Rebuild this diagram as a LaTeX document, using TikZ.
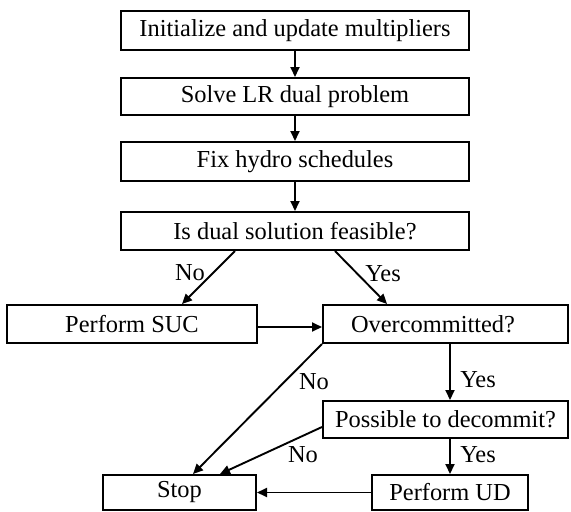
\documentclass[tikz,border=0pt]{standalone}
\usepackage{fontspec}
\setmainfont{Liberation Serif}
\usetikzlibrary{arrows.meta}
\begin{document}
\begin{tikzpicture}[x=1pt,y=-1pt,
  box/.style={draw, line width=2pt, inner sep=0pt, font=\fontsize{24.4}{27}\selectfont},
  txt/.style={inner sep=0pt, font=\fontsize{24.4}{27}\selectfont},
  lbl/.style={inner sep=0pt, font=\fontsize{24.4}{27}\selectfont},
  arr/.style={line width=1.9pt, -{Triangle[length=10pt,width=9pt]}}]
\useasboundingbox (0,0) rectangle (571,512);
\node[box, minimum width=348pt, minimum height=39pt] (b1) at (295,30.5) {Initialize and update multipliers};
\node[box, minimum width=348pt, minimum height=37pt] (b2) at (295,96.5) {Solve LR dual problem};
\node[box, minimum width=348pt, minimum height=39pt] (b3) at (295,161.5) {Fix hydro schedules};
\node[box, minimum width=348pt, minimum height=38pt] (b4) at (295,231) {Is dual solution feasible?};
\node[box, minimum width=250pt, minimum height=38pt] (suc) at (132,324) {Perform SUC};
\node[box, minimum width=245pt, minimum height=38pt] (over) at (445.5,324) {};
\node[txt] (overt) at (433,324) {Overcommitted?};
\node[box, minimum width=245pt, minimum height=37pt] (poss) at (445.5,419.5) {Possible to decommit?};
\node[box, minimum width=153pt, minimum height=35pt] (stop) at (179.5,492.5) {Stop};
\node[box, minimum width=156pt, minimum height=35pt] (ud) at (450,492.5) {Perform UD};

\draw[arr] (b1) -- (b2);
\draw[arr] (b2) -- (b3);
\draw[arr] (b3) -- (b4);
\draw[arr] ([xshift=-60pt]b4.south) -- ([xshift=50pt]suc.north);
\draw[arr] ([xshift=40pt]b4.south) -- ([xshift=-58.5pt]over.north);
\draw[arr] ([yshift=-3pt]suc.east) -- ([yshift=-3pt]over.west);
\draw[arr] (over.south west) -- ([xshift=13.5pt]stop.north);
\draw[arr] ([yshift=-7.5pt]poss.west) -- ([xshift=40.5pt]stop.north);
\draw[arr] ([xshift=4.5pt]over.south) -- ([xshift=4.5pt]poss.north);
\draw[arr] ([xshift=4.5pt]poss.south) -- (ud.north);
\draw[arr] (ud.west) -- (stop.east);

\node[lbl] (no1) at (190,273) {No};
\node[lbl] (yes1) at (383,274) {Yes};
\node[lbl] (no2) at (314,382) {No};
\node[lbl] (yes2) at (478,380) {Yes};
\node[lbl] (no3) at (303,455) {No};
\node[lbl] (yes3) at (478,455) {Yes};
\end{tikzpicture}
\end{document}
